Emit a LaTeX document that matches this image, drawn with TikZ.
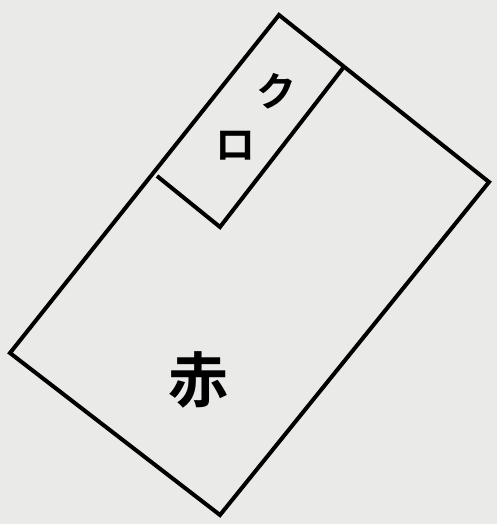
\documentclass[tikz,border=0pt]{standalone}
\usepackage{fontspec}
\newfontfamily\jpfont{Noto Sans CJK JP}[BoldFont={Noto Sans CJK JP Bold}]
\usepackage{tikz}
\usetikzlibrary{positioning}
\definecolor{paper}{RGB}{234,234,232}

\begin{document}
\begin{tikzpicture}[x=1pt,y=-1pt,line width=4pt,line join=miter,
  lbl/.style={font=\jpfont\bfseries,inner sep=0pt}]
  \fill[paper] (0,0) rectangle (497,524);
  \useasboundingbox (0,0) rectangle (497,524);
  \coordinate (top) at (279,15);
  \coordinate (right) at (489,182);
  \coordinate (bottom) at (220,515);
  \coordinate (left) at (10,353);
  \coordinate (kr) at (343,68);
  \coordinate (kb) at (220,227);
  \coordinate (kl) at (157,176);
  \draw (top)--(right)--(bottom)--(left)--cycle;
  \draw (kr)--(kb)--(kl);
  \node[lbl,font=\jpfont\bfseries\fontsize{40}{40}\selectfont] (ku) at (276,91) {ク};
  \node[lbl,font=\jpfont\bfseries\fontsize{40}{40}\selectfont] (ro) at (235,146) {ロ};
  \node[lbl,font=\jpfont\bfseries\fontsize{60}{60}\selectfont] (aka) at (198,380) {赤};
\end{tikzpicture}
\end{document}
